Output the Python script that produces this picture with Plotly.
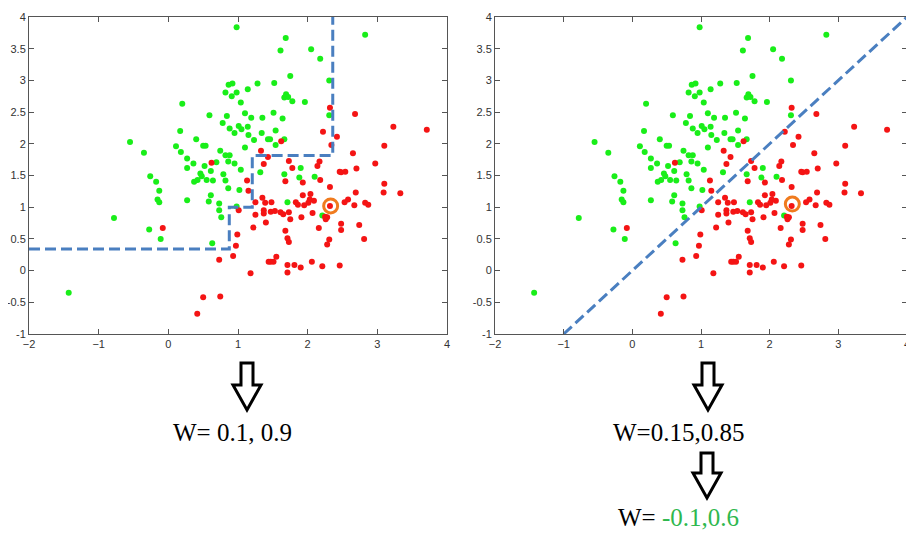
import plotly.graph_objects as go

# ---------------- data ----------------
green_x = [0.98, 1.685, 2.825, 1.61, 2.05, 2.18, 1.75, 2.31, 0.865, 0.92, 1.28, 1.52, 1.14, 0.82, 0.98,
           0.91, 1.69, 1.665, 1.72, 1.78, 1.96, 1.04, 0.20, 0.59, 0.84, 1.10, 1.19, 1.35, 1.51, 1.64,
           2.31, 0.78, 1.01, 0.88, 1.05, 1.14, 0.95, 1.15, 1.34, 1.54, 0.17, 1.23, 1.43, 1.46, 1.665,
           1.54, 0.40, 1.10, -0.55, 0.11, 0.50, 0.535, 0.18, 0.745, -0.35, 0.82, 0.88, 0.27, 0.36, 0.69,
           0.86, 0.95, 0.27, 0.52, 0.61, 1.04, 0.79, 1.32, 1.665, 1.90, -0.26, 0.46, 0.48, 0.55, 0.64,
           0.42, 0.37, 0.82, 1.88, 2.10, -0.175, 0.86, 1.02, -0.13, 0.61, -0.155, -0.13, 0.27, 0.58, 0.73,
           1.71, 0.98, 0.73, 0.76, -0.78, -0.275, -0.11, 0.63, -1.43, 2.21]
green_y = [3.84, 3.67, 3.72, 3.47, 3.49, 3.34, 3.07, 3.00, 2.93, 2.95, 2.95, 2.96, 2.86, 2.81, 2.81,
           2.75, 2.78, 2.73, 2.74, 2.67, 2.66, 2.65, 2.63, 2.45, 2.44, 2.48, 2.41, 2.41, 2.49, 2.40,
           2.45, 2.33, 2.28, 2.24, 2.23, 2.27, 2.17, 2.14, 2.17, 2.21, 2.20, 2.06, 2.07, 2.07, 2.07,
           1.98, 2.07, 1.94, 2.03, 1.96, 1.97, 1.97, 1.87, 1.89, 1.86, 1.82, 1.82, 1.77, 1.69, 1.71,
           1.72, 1.69, 1.62, 1.65, 1.57, 1.59, 1.52, 1.55, 1.52, 1.62, 1.49, 1.53, 1.49, 1.43, 1.42,
           1.43, 1.40, 1.42, 1.47, 1.48, 1.40, 1.30, 1.27, 1.26, 1.19, 1.12, 1.08, 1.11, 1.09, 1.06,
           1.08, 1.01, 0.95, 0.84, 0.83, 0.65, 0.50, 0.43, -0.35, 0.87]

red_x = [2.32, 2.68, 3.23, 3.71, 2.22, 2.42, 2.34, 3.10, 1.62, 1.33, 2.65, 1.43, 1.73, 2.17, 2.14,
         2.97, 0.62, 1.37, 1.78, 2.70, 2.46, 2.48, 2.54, 1.68, 1.93, 2.18, 1.13, 3.10, 2.32, 1.15,
         3.09, 3.33, 2.69, 2.04, 1.93, 2.58, 2.53, 2.03, 2.09, 2.01, 1.83, 1.86, 1.95, 1.35, 1.25,
         1.39, 1.48, 2.67, 2.825, 2.87, 1.01, 1.37, 1.37, 1.47, 1.53, 1.61, 1.65, 1.73, 2.07, 2.32,
         2.25, 2.26, 2.28, 1.25, 1.75, 1.91, 1.40, 2.48, 2.74, -0.08, 1.22, 2.16, 2.48, 1.68, 0.99,
         1.71, 1.73, 2.31, 2.81, 2.28, 0.97, 0.93, 1.55, 1.44, 1.47, 1.51, 0.73, 1.71, 1.81, 1.90,
         2.06, 2.21, 2.46, 1.18, 1.71, 0.50, 0.745, 0.415]
red_y = [2.57, 2.47, 2.27, 2.22, 2.19, 2.11, 1.98, 1.97, 2.04, 1.89, 1.85, 1.79, 1.73, 1.72, 1.65,
         1.69, 1.70, 1.68, 1.62, 1.61, 1.56, 1.55, 1.56, 1.41, 1.39, 1.43, 1.42, 1.37, 1.32, 1.26,
         1.23, 1.22, 1.23, 1.21, 1.19, 1.12, 1.08, 1.12, 1.10, 1.07, 1.08, 1.04, 1.03, 1.15, 1.08,
         1.07, 1.08, 1.03, 1.07, 1.04, 0.95, 0.95, 0.90, 0.93, 0.94, 0.92, 0.89, 0.92, 0.91, 1.02,
         0.85, 0.81, 0.84, 0.88, 0.81, 0.84, 0.76, 0.74, 0.72, 0.67, 0.68, 0.67, 0.64, 0.63, 0.57,
         0.51, 0.45, 0.49, 0.50, 0.41, 0.39, 0.23, 0.22, 0.14, 0.14, 0.14, 0.17, 0.09, 0.09, 0.05,
         0.14, 0.07, 0.08, -0.04, -0.03, -0.42, -0.41, -0.68]

# decision boundaries
tree_x = [-2, 0.875, 0.875, 1.205, 1.205, 2.36, 2.36]
tree_y = [0.342, 0.342, 1.0, 1.0, 1.815, 1.815, 4]
line_x = [-1, 4]
line_y = [-1, 4]

# highlighted sample
hl_left = (2.33, 1.02)
hl_right = (2.33, 1.05)

x_ticks = [-2, -1, 0, 1, 2, 3, 4]
y_ticks = [-1, -0.5, 0, 0.5, 1, 1.5, 2, 2.5, 3, 3.5, 4]
y_ticklabels = ["-1", "-0.5", "0", "0.5", "1", "1.5", "2", "2.5", "3", "3.5", "4"]

label_left = "W= 0.1, 0.9"
label_right = "W=0.15,0.85"
label_final_prefix = "W= "
label_final_value = "-0.1,0.6"

# ---------------- styling ----------------
PAGE_W, PAGE_H = 914, 541
OFF = 8  # default body margin of the page
W, H = PAGE_W - OFF, PAGE_H - 2 * OFF
GREEN = "#19ee19"
RED = "#f41414"
BLUE = "#4a7fc0"
ORANGE = "#f07b1e"
AX = "#555555"


def px(x):
    return (x - OFF) / W


def py(y):
    return 1 - (y - OFF) / H


fig = go.Figure()

for xa, ya, boundary, hl in [("x", "y", (tree_x, tree_y), hl_left),
                              ("x2", "y2", (line_x, line_y), hl_right)]:
    fig.add_trace(go.Scatter(x=green_x, y=green_y, mode="markers", xaxis=xa, yaxis=ya,
                             marker=dict(color=GREEN, size=6, line=dict(width=0)),
                             showlegend=False, hoverinfo="skip"))
    fig.add_trace(go.Scatter(x=red_x, y=red_y, mode="markers", xaxis=xa, yaxis=ya,
                             marker=dict(color=RED, size=6, line=dict(width=0)),
                             showlegend=False, hoverinfo="skip"))
    fig.add_trace(go.Scatter(x=boundary[0], y=boundary[1], mode="lines", xaxis=xa, yaxis=ya,
                             line=dict(color=BLUE, width=3, dash="11px,5px"),
                             showlegend=False, hoverinfo="skip"))
    fig.add_trace(go.Scatter(x=[hl[0]], y=[hl[1]], mode="markers", xaxis=xa, yaxis=ya,
                             marker=dict(symbol="circle-open", color=ORANGE, size=14,
                                         line=dict(color=ORANGE, width=3)),
                             showlegend=False, hoverinfo="skip"))

axis_common = dict(showgrid=False, zeroline=False, showline=True, linecolor=AX, linewidth=1,
                   mirror="ticks", ticks="inside", ticklen=5, tickcolor=AX, automargin=False,
                   ticklabeloverflow="allow",
                   tickfont=dict(family="Liberation Sans, Arial", size=11, color="#333333"))

fig.update_layout(
    width=W, height=H,
    margin=dict(l=0, r=0, t=0, b=0, autoexpand=False),
    paper_bgcolor="white", plot_bgcolor="white",
    xaxis=dict(domain=[px(29), px(447)], range=[-2, 4], tickvals=x_ticks, anchor="y", **axis_common),
    yaxis=dict(domain=[py(334), py(17)], range=[-1, 4], tickvals=y_ticks, ticktext=y_ticklabels,
               anchor="x", **axis_common),
    xaxis2=dict(domain=[px(495), px(907)], range=[-2, 4], tickvals=x_ticks, anchor="y2", **axis_common),
    yaxis2=dict(domain=[py(334), py(17)], range=[-1, 4], tickvals=y_ticks, ticktext=y_ticklabels,
                anchor="x2", **axis_common),
)


def block_arrow(cx, top, bottom, shaft_hw=6, head_hw=14, head_len=25):
    neck = bottom - head_len
    pts = [(cx - shaft_hw, top), (cx + shaft_hw, top), (cx + shaft_hw, neck), (cx + head_hw, neck),
           (cx, bottom), (cx - head_hw, neck), (cx - shaft_hw, neck)]
    path = "M " + " L ".join(f"{px(x):.5f},{py(y):.5f}" for x, y in pts) + " Z"
    return dict(type="path", xref="paper", yref="paper", path=path,
                line=dict(color="black", width=3), fillcolor="white")


fig.update_layout(shapes=[
    block_arrow(247, 363, 410),
    block_arrow(708, 363, 410),
    block_arrow(707, 453, 498),
])

text_font = dict(family="Liberation Serif, Times New Roman, serif", size=25, color="black")
for tx, ty, txt in [(232, 432, label_left),
                    (678, 432, label_right),
                    (678, 517, label_final_prefix
                     + f'<span style="color:#2fb84e">{label_final_value}</span>')]:
    fig.add_annotation(x=px(tx), y=py(ty), xref="paper", yref="paper", text=txt,
                       xanchor="center", yanchor="middle", showarrow=False, font=text_font)

fig.write_html("out.html")
